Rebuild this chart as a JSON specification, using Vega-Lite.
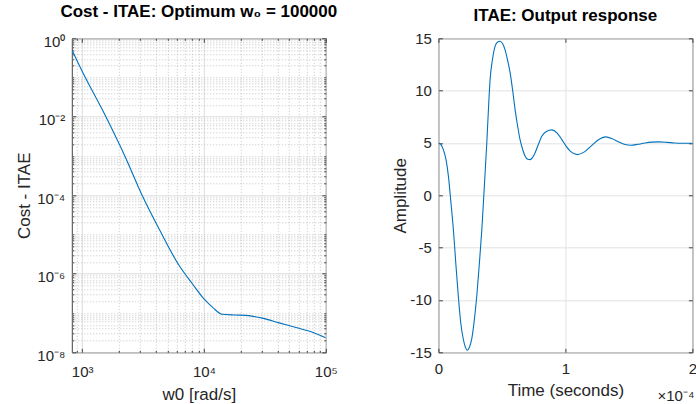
{
  "$schema": "https://vega.github.io/schema/vega-lite/v6.json",
  "autosize": {"type": "pad"},
  "padding": {"left": 13.8, "top": 2.3, "right": 0, "bottom": 0},
  "background": "white",
  "spacing": 112.6,
  "bounds": "flush",
  "config": {
    "font": "Liberation Sans",
    "view": {"stroke": "#404040", "strokeWidth": 1},
    "axis": {
      "labelFont": "Liberation Sans",
      "labelFontSize": 15,
      "labelColor": "#262626",
      "titleFont": "Liberation Sans",
      "titleFontSize": 17,
      "titleColor": "#262626",
      "titleFontWeight": "normal",
      "domain": false,
      "tickColor": "#404040",
      "tickSize": -4,
      "gridColor": "#e3e3e3",
      "gridOpacity": 1,
      "labelOverlap": false,
      "labelFlush": false
    },
    "title": {"font": "Liberation Sans", "fontSize": 17, "fontWeight": "bold", "color": "#000000", "anchor": "middle", "baseline": "alphabetic"}
  },
  "hconcat": [
    {
      "width": 254,
      "height": 314,
      "title": {"text": "Cost - ITAE: Optimum w₀ = 100000", "offset": 13},
      "data": {"values": [
        {"w0": 822, "cost": 0.513},
        {"w0": 1000, "cost": 0.1445},
        {"w0": 1567, "cost": 0.01},
        {"w0": 2239, "cost": 0.001},
        {"w0": 3090, "cost": 0.0001035},
        {"w0": 4285, "cost": 0.0000138},
        {"w0": 6252, "cost": 0.00000162},
        {"w0": 8054, "cost": 0.00000055},
        {"w0": 10000, "cost": 0.000000229},
        {"w0": 11776, "cost": 0.00000014},
        {"w0": 14060, "cost": 0.0000000933},
        {"w0": 17780, "cost": 0.0000000891},
        {"w0": 22080, "cost": 0.0000000871},
        {"w0": 30200, "cost": 0.0000000741},
        {"w0": 41400, "cost": 0.0000000562},
        {"w0": 56900, "cost": 0.0000000427},
        {"w0": 77800, "cost": 0.0000000324},
        {"w0": 100000, "cost": 0.0000000234}
      ]},
      "resolve": {"axis": {"x": "independent", "y": "independent"}},
      "layer": [
        {
          "mark": {"type": "line", "color": "#0072BD", "strokeWidth": 1.1, "interpolate": "monotone", "clip": true},
          "encoding": {
            "x": {
              "field": "w0", "type": "quantitative",
              "scale": {"type": "log", "domain": [822, 100000], "nice": false},
              "axis": {
                "title": "w0 [rad/s]",
                "values": [900, 1000, 2000, 3000, 4000, 5000, 6000, 7000, 8000, 9000, 10000, 20000, 30000, 40000, 50000, 60000, 70000, 80000, 90000, 100000],
                "labelExpr": "datum.value == 1000 ? '10³' : datum.value == 10000 ? '10⁴' : datum.value == 100000 ? '10⁵' : ''",
                "labelBaseline": "alphabetic",
                "labelPadding": 28,
                "gridDash": {"condition": {"test": "datum.value == 1000 || datum.value == 10000 || datum.value == 100000", "value": []}, "value": [1, 2]},
                "gridColor": {"condition": {"test": "datum.value == 1000 || datum.value == 10000 || datum.value == 100000", "value": "#dcdcdc"}, "value": "#c4c4c4"},
                "tickSize": {"condition": {"test": "datum.value == 1000 || datum.value == 10000 || datum.value == 100000", "value": -4}, "value": -2},
                "titleX": 127,
                "titleY": 47,
                "titleBaseline": "alphabetic",
                "titleAlign": "center"
              }
            },
            "y": {
              "field": "cost", "type": "quantitative",
              "scale": {"type": "log", "domain": [1e-8, 1], "nice": false},
              "axis": {
                "title": "Cost - ITAE",
                "values": [1e-8, 2e-8, 3e-8, 4e-8, 5e-8, 6e-8, 7e-8, 8e-8, 9e-8, 1e-7, 2e-7, 3e-7, 4e-7, 5e-7, 6e-7, 7e-7, 8e-7, 9e-7, 1e-6, 2e-6, 3e-6, 4e-6, 5e-6, 6e-6, 7e-6, 8e-6, 9e-6, 1e-5, 2e-5, 3e-5, 4e-5, 5e-5, 6e-5, 7e-5, 8e-5, 9e-5, 1e-4, 2e-4, 3e-4, 4e-4, 5e-4, 6e-4, 7e-4, 8e-4, 9e-4, 1e-3, 2e-3, 3e-3, 4e-3, 5e-3, 6e-3, 7e-3, 8e-3, 9e-3, 1e-2, 2e-2, 3e-2, 4e-2, 5e-2, 6e-2, 7e-2, 8e-2, 9e-2, 1e-1, 2e-1, 3e-1, 4e-1, 5e-1, 6e-1, 7e-1, 8e-1, 9e-1, 1],
                "labelExpr": "datum.value == 1 ? '10⁰' : datum.value == 1e-2 ? '10⁻²' : datum.value == 1e-4 ? '10⁻⁴' : datum.value == 1e-6 ? '10⁻⁶' : datum.value == 1e-8 ? '10⁻⁸' : ''",
                "labelBaseline": "alphabetic",
                "labelOffset": 8,
                "labelPadding": 11,
                "gridDash": {"condition": {"test": "datum.value == 1 || datum.value == 1e-2 || datum.value == 1e-4 || datum.value == 1e-6 || datum.value == 1e-8", "value": []}, "value": [1, 2]},
                "gridColor": {"condition": {"test": "datum.value == 1 || datum.value == 1e-2 || datum.value == 1e-4 || datum.value == 1e-6 || datum.value == 1e-8", "value": "#dcdcdc"}, "value": "#c4c4c4"},
                "tickSize": {"condition": {"test": "datum.value == 1 || datum.value == 1e-2 || datum.value == 1e-4 || datum.value == 1e-6 || datum.value == 1e-8", "value": -4}, "value": -2},
                "titleX": -42.7,
                "titleY": 157,
                "titleAngle": 270,
                "titleBaseline": "alphabetic",
                "titleAlign": "center"
              }
            }
          }
        },
        {
          "mark": {"type": "line", "opacity": 0, "clip": true},
          "encoding": {
            "x": {
              "field": "w0", "type": "quantitative",
              "axis": {
                "orient": "top", "title": null, "labels": false, "grid": false,
                "values": [900, 1000, 2000, 3000, 4000, 5000, 6000, 7000, 8000, 9000, 10000, 20000, 30000, 40000, 50000, 60000, 70000, 80000, 90000, 100000],
                "tickSize": {"condition": {"test": "datum.value == 1000 || datum.value == 10000 || datum.value == 100000", "value": -4}, "value": -2}
              }
            },
            "y": {
              "field": "cost", "type": "quantitative",
              "axis": {
                "orient": "right", "title": null, "labels": false, "grid": false,
                "values": [1e-8, 2e-8, 3e-8, 4e-8, 5e-8, 6e-8, 7e-8, 8e-8, 9e-8, 1e-7, 2e-7, 3e-7, 4e-7, 5e-7, 6e-7, 7e-7, 8e-7, 9e-7, 1e-6, 2e-6, 3e-6, 4e-6, 5e-6, 6e-6, 7e-6, 8e-6, 9e-6, 1e-5, 2e-5, 3e-5, 4e-5, 5e-5, 6e-5, 7e-5, 8e-5, 9e-5, 1e-4, 2e-4, 3e-4, 4e-4, 5e-4, 6e-4, 7e-4, 8e-4, 9e-4, 1e-3, 2e-3, 3e-3, 4e-3, 5e-3, 6e-3, 7e-3, 8e-3, 9e-3, 1e-2, 2e-2, 3e-2, 4e-2, 5e-2, 6e-2, 7e-2, 8e-2, 9e-2, 1e-1, 2e-1, 3e-1, 4e-1, 5e-1, 6e-1, 7e-1, 8e-1, 9e-1, 1],
                "tickSize": {"condition": {"test": "datum.value == 1 || datum.value == 1e-2 || datum.value == 1e-4 || datum.value == 1e-6 || datum.value == 1e-8", "value": -4}, "value": -2}
              }
            }
          }
        }
      ]
    },
    {
      "width": 254,
      "height": 314,
      "title": {"text": "ITAE: Output response", "offset": 6},
      "data": {"values": [
        {"t": 0, "amplitude": 5},
        {"t": 0.02, "amplitude": 4.85},
        {"t": 0.039, "amplitude": 4.37},
        {"t": 0.06, "amplitude": 3.4},
        {"t": 0.079, "amplitude": 1.81},
        {"t": 0.098, "amplitude": -0.6},
        {"t": 0.118, "amplitude": -3.28},
        {"t": 0.137, "amplitude": -6.5},
        {"t": 0.157, "amplitude": -9.65},
        {"t": 0.177, "amplitude": -12.3},
        {"t": 0.197, "amplitude": -13.8},
        {"t": 0.212, "amplitude": -14.5},
        {"t": 0.228, "amplitude": -14.8},
        {"t": 0.245, "amplitude": -14.5},
        {"t": 0.263, "amplitude": -13.7},
        {"t": 0.282, "amplitude": -12.0},
        {"t": 0.302, "amplitude": -9.65},
        {"t": 0.322, "amplitude": -6.6},
        {"t": 0.342, "amplitude": -3.28},
        {"t": 0.362, "amplitude": 0.9},
        {"t": 0.381, "amplitude": 5},
        {"t": 0.394, "amplitude": 8.2},
        {"t": 0.407, "amplitude": 11.05},
        {"t": 0.426, "amplitude": 13.0},
        {"t": 0.446, "amplitude": 14.23},
        {"t": 0.466, "amplitude": 14.65},
        {"t": 0.486, "amplitude": 14.72},
        {"t": 0.505, "amplitude": 14.5},
        {"t": 0.525, "amplitude": 13.9},
        {"t": 0.545, "amplitude": 12.9},
        {"t": 0.565, "amplitude": 11.7},
        {"t": 0.585, "amplitude": 10.0},
        {"t": 0.604, "amplitude": 8.19},
        {"t": 0.624, "amplitude": 6.6},
        {"t": 0.643, "amplitude": 5.32},
        {"t": 0.663, "amplitude": 4.4},
        {"t": 0.683, "amplitude": 3.73},
        {"t": 0.703, "amplitude": 3.45},
        {"t": 0.722, "amplitude": 3.41},
        {"t": 0.741, "amplitude": 3.6},
        {"t": 0.761, "amplitude": 4.05},
        {"t": 0.787, "amplitude": 4.85},
        {"t": 0.814, "amplitude": 5.64},
        {"t": 0.85, "amplitude": 6.1},
        {"t": 0.893, "amplitude": 6.25},
        {"t": 0.935, "amplitude": 5.95},
        {"t": 0.972, "amplitude": 5.32},
        {"t": 1.0, "amplitude": 4.8},
        {"t": 1.04, "amplitude": 4.2},
        {"t": 1.095, "amplitude": 3.89},
        {"t": 1.15, "amplitude": 4.15},
        {"t": 1.206, "amplitude": 4.74},
        {"t": 1.26, "amplitude": 5.3},
        {"t": 1.318, "amplitude": 5.58},
        {"t": 1.37, "amplitude": 5.4},
        {"t": 1.416, "amplitude": 5.12},
        {"t": 1.47, "amplitude": 4.85},
        {"t": 1.515, "amplitude": 4.78},
        {"t": 1.57, "amplitude": 4.87},
        {"t": 1.626, "amplitude": 5.0},
        {"t": 1.68, "amplitude": 5.08},
        {"t": 1.738, "amplitude": 5.1},
        {"t": 1.8, "amplitude": 5.06},
        {"t": 1.856, "amplitude": 5.0},
        {"t": 1.92, "amplitude": 4.97},
        {"t": 1.974, "amplitude": 4.97},
        {"t": 2.0, "amplitude": 4.98}
      ]},
      "resolve": {"axis": {"x": "independent", "y": "independent"}},
      "layer": [
        {
          "mark": {"type": "line", "color": "#0072BD", "strokeWidth": 1.1, "interpolate": "monotone", "clip": true},
          "encoding": {
            "x": {
              "field": "t", "type": "quantitative",
              "scale": {"domain": [0, 2], "nice": false, "zero": false},
              "axis": {
                "title": "Time (seconds)",
                "values": [0, 1, 2],
                "labelExpr": "'' + datum.value",
                "labelBaseline": "alphabetic",
                "labelPadding": 25,
                "titleX": 127,
                "titleY": 43,
                "titleBaseline": "alphabetic",
                "titleAlign": "center"
              }
            },
            "y": {
              "field": "amplitude", "type": "quantitative",
              "scale": {"domain": [-15, 15], "nice": false, "zero": false},
              "axis": {
                "title": "Amplitude",
                "values": [-15, -10, -5, 0, 5, 10, 15],
                "labelExpr": "'' + datum.value",
                "labelPadding": 11,
                "titleX": -33,
                "titleY": 157,
                "titleAngle": 270,
                "titleBaseline": "alphabetic",
                "titleAlign": "center"
              }
            }
          }
        },
        {
          "mark": {"type": "line", "opacity": 0, "clip": true},
          "encoding": {
            "x": {
              "field": "t", "type": "quantitative",
              "axis": {"orient": "top", "title": null, "labels": false, "grid": false, "values": [0, 1, 2]}
            },
            "y": {
              "field": "amplitude", "type": "quantitative",
              "axis": {"orient": "right", "title": null, "labels": false, "grid": false, "values": [-15, -10, -5, 0, 5, 10, 15]}
            }
          }
        },
        {
          "data": {"values": [{"t": 2, "amplitude": -19.7, "label": "×10⁻⁴"}]},
          "mark": {"type": "text", "align": "right", "baseline": "alphabetic", "dx": 2, "fontSize": 15, "color": "#262626", "font": "Liberation Sans"},
          "encoding": {
            "x": {"field": "t", "type": "quantitative", "axis": null},
            "y": {"field": "amplitude", "type": "quantitative", "axis": null},
            "text": {"field": "label"}
          }
        }
      ]
    }
  ]
}
